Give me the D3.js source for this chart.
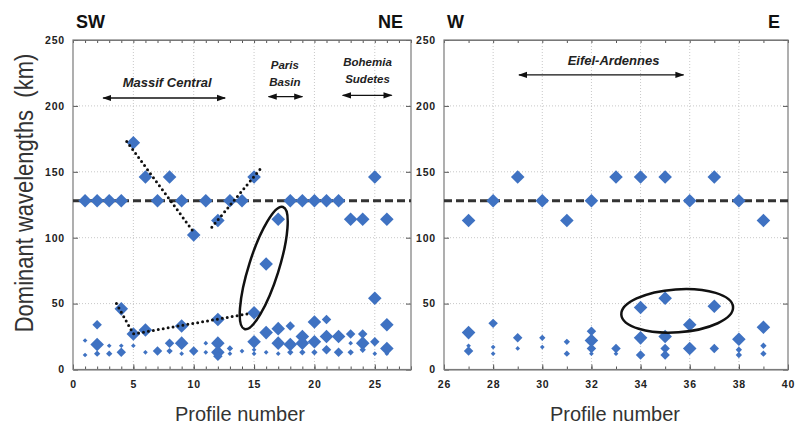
<!DOCTYPE html>
<html><head><meta charset="utf-8">
<script src="https://cdn.jsdelivr.net/npm/d3@7"></script>
<style>html,body{margin:0;padding:0;background:#fff}svg{display:block}</style>
</head><body><svg id="c" width="799" height="425"></svg>
<script>
// ---------- data ----------
// size classes: 1 tiny, 2 small, 3 medium, 4 large
const leftProfile = [1,2,3,4,5,6,7,8,9,10,11,12,13,14,15,16,17,18,19,20,21,22,23,24,25,26,25,
  2,4,5,6,9,12,15,16,17,18,20,21,26,
  1,1,2,2,3,3,4,4,5,6,7,8,8,9,9,10,11,11,12,12,12,13,13,14,15,15,15,16,17,17,18,18,19,19,19,20,20,21,21,22,22,23,23,23,24,24,24,25,25,26,26];
const leftValue = [128,128,128,128,172,146,128,146,128,102,128,113,128,128,146,80,114,128,128,128,128,128,114,114,146,114,54,
  34,46,27,30,33,38,43,28,31,33,36,38,34,
  22,11,19,12,18,12,18,13,18,13,14,20,14,20,12,14,20,13,20,13,10,16,12,14,21,15,12,13,20,12,19,13,25,20,13,21,13,25,15,25,13,27,20,13,27,20,15,21,12,16,12];
const leftSize = [4,4,4,4,4,4,4,4,4,4,4,4,4,4,4,4,4,4,4,4,4,4,4,4,4,4,4,
  3,4,4,4,4,4,4,4,4,3,4,3,4,
  1,1,4,2,1,2,1,3,1,1,3,3,2,4,1,3,1,1,4,4,3,2,1,1,4,1,1,1,4,1,4,2,4,4,2,4,2,4,3,4,3,3,1,2,3,4,2,3,1,4,1];

const rightProfile = [27,28,29,30,31,32,33,34,35,36,37,38,39,
  27,27,27,28,28,28,29,29,30,30,31,31,32,32,32,32,33,33,34,34,34,35,35,35,35,36,36,37,37,38,38,38,39,39,39];
const rightValue = [113,128,146,128,113,128,146,146,146,128,146,128,113,
  28,18,14,35,17,12,24,16,24,17,21,12,29,22,16,12,16,12,47,24,11,54,25,16,11,34,16,48,16,23,15,11,32,18,12];
const rightSize = [4,4,4,4,4,4,4,4,4,4,4,4,4,
  4,1,3,3,1,1,3,1,2,1,2,2,3,4,3,1,3,1,4,4,3,4,4,3,3,4,4,4,3,4,2,2,4,2,2];

const meanWavelength = 128;
const leftXTicks = [0,5,10,15,20,25];
const rightXTicks = [26,28,30,32,34,36,38,40];
const yTicks = [0,50,100,150,200,250];
const leftRegions = [
  {name:["Massif Central"], x0:2.5, x1:12.6, y:206, tx:7.8, ty:[214]},
  {name:["Paris","Basin"], x0:16.2, x1:19.0, y:207, tx:17.55, ty:[228,215]},
  {name:["Bohemia","Sudetes"], x0:22.35, x1:26.4, y:208, tx:24.4, ty:[230,217]}
];
const rightRegions = [
  {name:["Eifel-Ardennes"], x0:29.05, x1:35.75, y:223.5, tx:32.9, ty:[231]}
];
// dotted trend annotations (profile, km)
const trendLines = [
  [[4.45,173],[10.1,103]],
  [[11.5,108],[15.6,153]],
  [[3.6,50],[5.0,27],[14.65,42.5]]
];

// ---------- drawing ----------
const svg = d3.select("#c");
const blue = "#3f72c2";
const sizeArea = {1:11, 2:20, 3:45, 4:92};
const FONT = "Liberation Sans, Arial, sans-serif";

const defs = svg.append("defs");
defs.append("marker").attr("id","ah").attr("viewBox","0 0 10 10").attr("refX",9).attr("refY",5)
  .attr("markerWidth",7).attr("markerHeight",7).attr("orient","auto-start-reverse")
  .append("path").attr("d","M0,1.5 L10,5 L0,8.5 z").attr("fill","#111");

function panel(opt){
  const x = d3.scaleLinear().domain(opt.xdom).range([opt.x0, opt.x1]);
  const y = d3.scaleLinear().domain([0,250]).range([opt.y1, opt.y0]);
  const g = svg.append("g");
  // grid
  g.selectAll(".gx").data(opt.grid).enter().append("line")
    .attr("x1",d=>x(d)).attr("x2",d=>x(d)).attr("y1",opt.y0).attr("y2",opt.y1)
    .attr("stroke","#c8c8c8").attr("stroke-width",1).attr("stroke-dasharray","1,2");
  g.selectAll(".gy").data([50,100,150,200]).enter().append("line")
    .attr("x1",opt.x0).attr("x2",opt.x1).attr("y1",d=>y(d)).attr("y2",d=>y(d))
    .attr("stroke","#c8c8c8").attr("stroke-width",1).attr("stroke-dasharray","1,2");
  // axes
  const minor = d3.range(opt.xdom[0], opt.xdom[1]+1, 1);
  const axB = d3.axisBottom(x).tickValues(minor).tickSize(-3).tickFormat("");
  const axT = d3.axisTop(x).tickValues(minor).tickSize(-3).tickFormat("");
  g.append("g").attr("transform",`translate(0,${opt.y1})`).call(axB);
  g.append("g").attr("transform",`translate(0,${opt.y0})`).call(axT);
  g.append("g").attr("transform",`translate(0,${opt.y1})`)
    .call(d3.axisBottom(x).tickValues(opt.xticks).tickSize(-5).tickPadding(11))
    .call(a=>a.select(".domain").remove());
  g.append("g").attr("transform",`translate(${opt.x0},0)`)
    .call(d3.axisLeft(y).tickValues(yTicks).tickSize(-5).tickPadding(8))
    .call(a=>a.select(".domain").remove());
  g.append("g").attr("transform",`translate(${opt.x1},0)`)
    .call(d3.axisRight(y).tickValues(yTicks).tickSize(-5).tickFormat(""))
    .call(a=>a.select(".domain").remove());
  g.selectAll(".tick line").attr("stroke","#555");
  g.selectAll(".domain").attr("stroke","#777");
  g.selectAll(".tick text").attr("font-family",FONT)
    .attr("font-weight","bold").attr("font-size","10.5px").attr("letter-spacing","0.8px").attr("fill","#222");
  g.append("rect").attr("x",opt.x0).attr("y",opt.y0).attr("width",opt.x1-opt.x0).attr("height",opt.y1-opt.y0)
    .attr("fill","none").attr("stroke","#7a7a7a").attr("stroke-width",1.2);
  // mean line
  g.append("line").attr("x1",opt.x0).attr("x2",opt.x1).attr("y1",y(meanWavelength)).attr("y2",y(meanWavelength))
    .attr("stroke","#333").attr("stroke-width",3).attr("stroke-dasharray","8,4");
  // points
  const pts = opt.px.map((p,i)=>({p, v:opt.pv[i], s:opt.ps[i]}));
  g.selectAll(".pt").data(pts).enter().append("path")
    .attr("d", d=>d3.symbol(d3.symbolSquare, sizeArea[d.s])())
    .attr("transform", d=>`translate(${x(d.p)},${y(d.v)}) rotate(45)`)
    .attr("fill", blue);
  // regions
  opt.regions.forEach(r=>{
    g.append("line").attr("x1",x(r.x0)).attr("x2",x(r.x1)).attr("y1",y(r.y)).attr("y2",y(r.y))
      .attr("stroke","#111").attr("stroke-width",1.3)
      .attr("marker-start","url(#ah)").attr("marker-end","url(#ah)");
    r.name.forEach((t,i)=>{
      g.append("text").attr("x",x(r.tx)).attr("y",y(r.ty[i])).attr("text-anchor","middle")
        .attr("font-family",FONT).attr("font-weight","bold")
        .attr("font-style","italic").attr("font-size", r.name.length>1?"11.5px":"13px").attr("fill","#222").text(t);
    });
  });
  // direction labels
  svg.append("text").attr("x",opt.x0+3).attr("y",28).attr("font-family",FONT)
    .attr("font-weight","bold").attr("font-size","18px").attr("fill","#111").text(opt.dirs[0]);
  svg.append("text").attr("x",opt.x1-8).attr("y",28).attr("text-anchor","end").attr("font-family",FONT)
    .attr("font-weight","bold").attr("font-size","18px").attr("fill","#111").text(opt.dirs[1]);
  // x label
  svg.append("text").attr("x",(opt.x0+opt.x1)/2 + opt.lblShift).attr("y",421).attr("text-anchor","middle")
    .attr("font-family",FONT).attr("font-size","20px").attr("fill","#333").text("Profile number");
  return {x,y,g};
}

const L = panel({xdom:[0,28], x0:73, x1:411, y0:40, y1:369.5, grid:[5,10,15,20,25], xticks:leftXTicks,
  px:leftProfile, pv:leftValue, ps:leftSize, regions:leftRegions, dirs:["SW","NE"], lblShift:-2});
const R = panel({xdom:[26,40], x0:444, x1:788, y0:40, y1:369.5, grid:[28,30,32,34,36,38], xticks:rightXTicks,
  px:rightProfile, pv:rightValue, ps:rightSize, regions:rightRegions, dirs:["W","E"], lblShift:-1});

// trend dotted lines (left)
const lineGen = d3.line().x(d=>L.x(d[0])).y(d=>L.y(d[1]));
trendLines.forEach(t=>{
  L.g.append("path").attr("d",lineGen(t)).attr("fill","none").attr("stroke","#111")
    .attr("stroke-width",3).attr("stroke-linecap","round").attr("stroke-dasharray","0,5");
});
// ellipses
L.g.append("ellipse").attr("cx",L.x(15.8)).attr("cy",L.y(77)).attr("rx",64).attr("ry",15)
  .attr("transform",`rotate(-72.5,${L.x(15.8)},${L.y(77)})`)
  .attr("fill","none").attr("stroke","#111").attr("stroke-width",2.5);
R.g.append("ellipse").attr("cx",R.x(35.49)).attr("cy",R.y(44.5)).attr("rx",56).attr("ry",21.5)
  .attr("transform",`rotate(-4,${R.x(35.49)},${R.y(44.5)})`)
  .attr("fill","none").attr("stroke","#111").attr("stroke-width",2.5);

// y label
svg.append("text").attr("transform","translate(33,193) rotate(-90) scale(1,1.15)").attr("text-anchor","middle")
  .style("white-space","pre")
  .attr("font-family",FONT).attr("font-size","22px").attr("fill","#333")
  .text("Dominant wavelengths  (km)");
</script></body></html>
